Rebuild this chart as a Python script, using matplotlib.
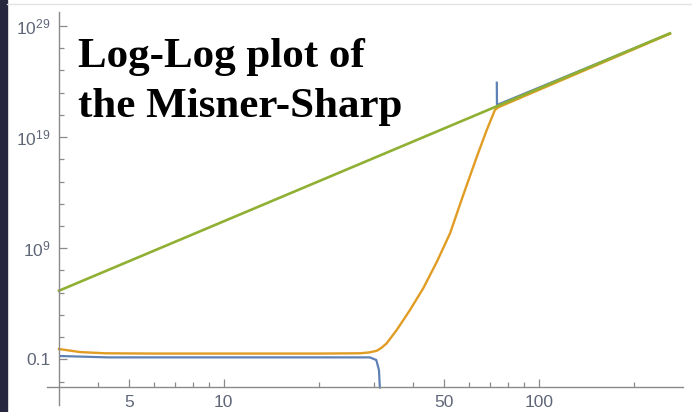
import numpy as np
import matplotlib
matplotlib.use("Agg")
import matplotlib.pyplot as plt
from matplotlib.ticker import FixedLocator, FixedFormatter, NullFormatter

plt.rcParams['mathtext.fontset'] = 'custom'
plt.rcParams['mathtext.rm'] = 'Liberation Sans'
plt.rcParams['mathtext.it'] = 'Liberation Sans:italic'

# r values and curves
r_blue_a = [3.0, 4.3, 8.0, 15.0, 25.0, 29.1, 30.5, 31.1, 31.3, 31.35]
m_blue_a = [0.20, 0.15, 0.15, 0.15, 0.15, 0.15, 0.087, 0.011, 3.4e-4, 2.3e-4]
r_blue_b = [73.6, 73.7, 261.0]
m_blue_b = [1.0e24, 7.8e21, 2.1e28]

r_orange = [3.0, 3.5, 4.2, 6.0, 10.0, 20.0, 27.1, 29.0, 30.6, 31.7, 32.9,
            35.4, 39.0, 43.0, 47.5, 52.3, 57.6, 63.6, 68.4, 72.6, 74.4, 261.0]
m_orange = [0.85, 0.45, 0.35, 0.33, 0.33, 0.33, 0.35, 0.42, 0.59, 1.1, 2.75,
            43.0, 2.7e3, 2.5e5, 6.1e7, 2.2e10, 6.2e13, 1.7e17, 4.4e19,
            2.8e21, 4.8e21, 2.0e28]

r_green = [3.0, 261.0]
m_green = [1.5e5, 2.2e28]

x_major = [5, 10, 50, 100]
x_major_labels = ['5', '10', '50', '100']
x_minor = [4, 6, 7, 8, 9, 20, 30, 40, 60, 70, 80, 90, 200]
y_major = [1e-1, 1e9, 1e19, 1e29]
y_major_labels = ['0.1', r'$\mathregular{10^{9}}$', r'$\mathregular{10^{19}}$',
                  r'$\mathregular{10^{29}}$']
y_minor = [10.0 ** k for k in range(-3, 30, 2)]

fig = plt.figure(figsize=(6.92, 4.12), dpi=100)
W, H = 692, 412
ax = fig.add_axes([47 / W, 7 / H, (683 - 47) / W, (405 - 12) / H])

ax.plot(r_blue_a, m_blue_a, color='#5E81B5', lw=1.6, solid_capstyle='butt')
ax.plot(r_blue_b, m_blue_b, color='#5E81B5', lw=1.6, solid_capstyle='butt')
ax.plot(r_orange, m_orange, color='#E19C24', lw=1.7)
ax.plot(r_green, m_green, color='#8FB032', lw=1.9)

ax.set_xscale('log')
ax.set_yscale('log')
ax.set_xlim(10 ** 0.439, 10 ** 2.458)
ax.set_ylim(10 ** -5.11, 10 ** 30.26)

for s in ['top', 'right']:
    ax.spines[s].set_visible(False)
ax.spines['left'].set_position(('data', 3.0))
ax.spines['bottom'].set_position(('data', 10 ** -3.45))
for s in ['left', 'bottom']:
    ax.spines[s].set_color('#8a8a8a')
    ax.spines[s].set_linewidth(1.0)

ax.xaxis.set_major_locator(FixedLocator(x_major))
ax.xaxis.set_major_formatter(FixedFormatter(x_major_labels))
ax.xaxis.set_minor_locator(FixedLocator(x_minor))
ax.xaxis.set_minor_formatter(NullFormatter())
ax.yaxis.set_major_locator(FixedLocator(y_major))
ax.yaxis.set_major_formatter(FixedFormatter(y_major_labels))
ax.yaxis.set_minor_locator(FixedLocator(y_minor))
ax.yaxis.set_minor_formatter(NullFormatter())

ax.tick_params(which='both', direction='in', color='#8a8a8a', width=0.9)
ax.tick_params(which='major', length=6)
ax.tick_params(which='minor', length=3.5)
ax.tick_params(axis='x', which='major', pad=6)
ax.tick_params(axis='y', which='major', pad=6)
for lab in ax.get_xticklabels() + ax.get_yticklabels():
    lab.set_fontfamily('Liberation Sans')
    lab.set_fontsize(12.5)
    lab.set_color('#5f6678')

title_lines = ['Log-Log plot of', 'the Misner-Sharp']
for i, line in enumerate(title_lines):
    fig.text(78 / W, 1 - (67 + 50 * i) / H, line,
             family='Liberation Serif', weight='bold', fontsize=31,
             ha='left', va='baseline', color='black')

# slide edge on the left and thin rule along the top
fig.patches.append(plt.Rectangle((0, 0), 7 / W, 1, transform=fig.transFigure,
                                 color='#26263f', zorder=0))
fig.lines.append(plt.Line2D([7 / W, 1], [1 - 4 / H, 1 - 4 / H],
                            transform=fig.transFigure, color='#e2e2e2', lw=1))

fig.savefig('out.png', dpi=100)
